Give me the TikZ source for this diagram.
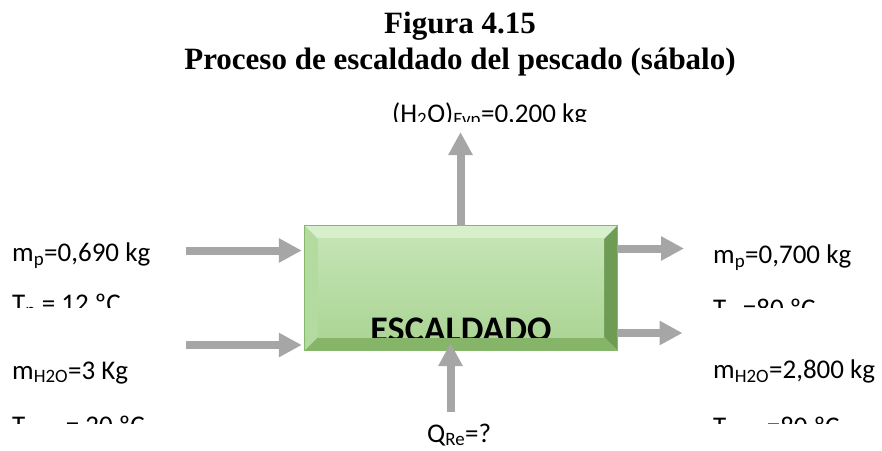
\documentclass[tikz,border=0pt]{standalone}
\usepackage{fontspec}
\setmainfont{Carlito}
\newfontfamily\titlefont{Liberation Serif}
\usetikzlibrary{arrows.meta,calc}
\definecolor{arrowgray}{HTML}{A6A6A6}
\definecolor{facetop}{HTML}{C4E4B4}
\definecolor{facebot}{HTML}{ACD596}
\definecolor{bevtop}{HTML}{D8EFCB}
\definecolor{bevleft}{HTML}{B3DA9F}
\definecolor{bevbot}{HTML}{86B56A}
\definecolor{bevright}{HTML}{6E9C55}
\definecolor{boxline}{HTML}{86B86B}
\tikzset{
  lbl/.style={anchor=base west, inner sep=0pt, font=\fontsize{27}{32}\selectfont},
  garrow/.style={draw=arrowgray, line width=8pt, -{Triangle[width=23pt,length=23pt]}},
  ttl/.style={anchor=base, inner sep=0pt, font=\titlefont\bfseries\fontsize{31}{36}\selectfont},
}
\begin{document}
\begin{tikzpicture}[x=1pt,y=-1pt]
\useasboundingbox (0,0) rectangle (882,450);
% title
\node[ttl] (t1) at (460,33) {Figura 4.15};
\node[ttl] (t2) at (460,69) {Proceso de escaldado del pescado (sábalo)};
% box
\node[draw=none, minimum width=312pt, minimum height=124pt, inner sep=0pt] (box) at (461,288) {};
\coordinate (bi1) at ($(box.north west)+(13,13)$);
\coordinate (bi2) at ($(box.north east)+(-13,13)$);
\coordinate (bi3) at ($(box.south east)+(-13,-13)$);
\coordinate (bi4) at ($(box.south west)+(13,-13)$);
\fill[bevtop] (box.north west) -- (box.north east) -- (bi2) -- (bi1) -- cycle;
\fill[bevleft] (box.north west) -- (bi1) -- (bi4) -- (box.south west) -- cycle;
\fill[bevbot] (box.south west) -- (bi4) -- (bi3) -- (box.south east) -- cycle;
\fill[bevright] (box.north east) -- (box.south east) -- (bi3) -- (bi2) -- cycle;
\shade[top color=facetop, bottom color=facebot] (bi1) rectangle (bi3);
\draw[boxline, line width=0.8pt] (box.north west) rectangle (box.south east);
\begin{scope}
  \clip (bi1) rectangle (bi3);
  \node[anchor=base, inner sep=0pt, font=\bfseries\fontsize{36}{40}\selectfont] (esc) at (461,341) {ESCALDADO};
\end{scope}
% labels
\node[lbl] (mpin) at (12,261.7) {m\textsubscript{p}=0,690 kg};
\node[lbl] (mwin) at (12,379) {m\textsubscript{H2O}=3 Kg};
\node[lbl] (mpout) at (713,263.3) {m\textsubscript{p}=0,700 kg};
\node[lbl] (mwout) at (713,378.3) {m\textsubscript{H2O}=2,800 kg};
\node[lbl] (q) at (427,442) {Q\textsubscript{Re}=?};
\begin{scope}
  \clip (0,0) rectangle (882,307.3);
  \node[lbl] (tpin) at (12,312.4) {T\textsubscript{p} = 12 ºC};
  \node[lbl] (tpout) at (713,317.4) {T\textsubscript{p} =80 ºC};
\end{scope}
\begin{scope}
  \clip (0,360) rectangle (882,423.3);
  \node[lbl] (twin) at (12,434.1) {T\textsubscript{H2O} = 20 ºC};
  \node[lbl] (twout) at (713,435.7) {T\textsubscript{H2O} =80 ºC};
\end{scope}
\begin{scope}
  \clip (0,80) rectangle (882,121.3);
  \node[lbl] (evp) at (392,122) {(H\textsubscript{2}O)\textsubscript{Evp}=0,200 kg};
\end{scope}
% arrows
\coordinate (inA) at (186,250.5);
\coordinate (inB) at (186,345);
\coordinate (outA) at (684,248.5);
\coordinate (outB) at (682.5,333);
\coordinate (upT) at (460.5,132);
\coordinate (qS) at (450.5,412);
\draw[garrow, shorten >=3pt] (inA) -- (inA -| box.west);
\draw[garrow, shorten >=3pt] (inB) -- (inB -| box.west);
\draw[garrow] (outA -| box.east) -- (outA);
\draw[garrow] (outB -| box.east) -- (outB);
\draw[garrow] (upT |- box.north) -- (upT);
\draw[garrow] (qS) -- ++(0,-69);
\end{tikzpicture}
\end{document}
